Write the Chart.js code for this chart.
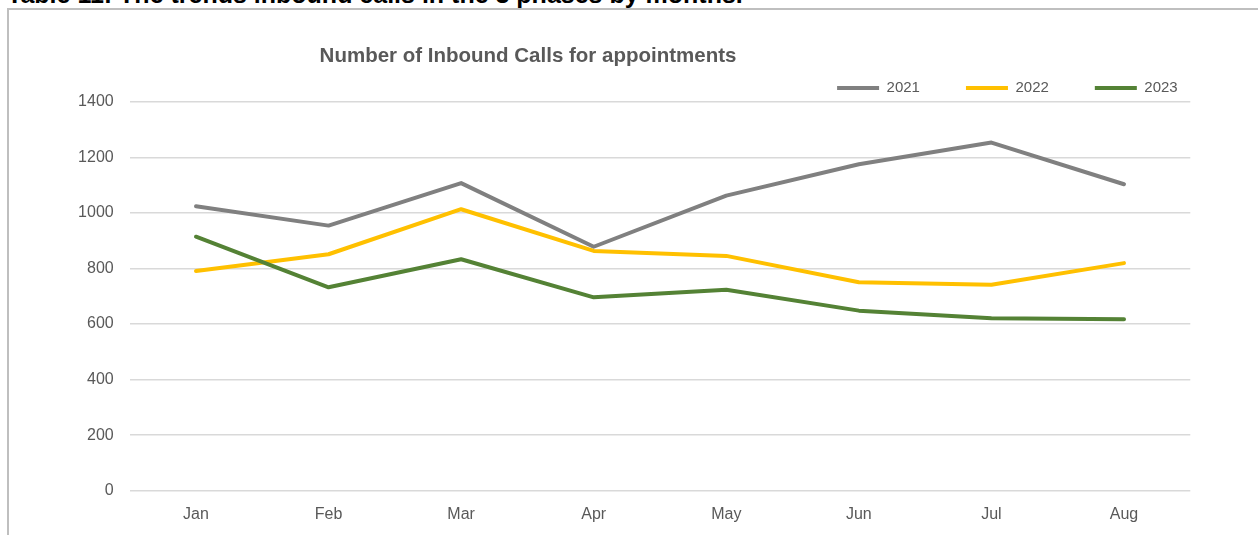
<!DOCTYPE html>
<html>
<head>
<meta charset="utf-8">
<script src="https://cdn.jsdelivr.net/npm/chart.js@4/dist/chart.umd.min.js"></script>
<style>
  html, body { margin: 0; padding: 0; background: #fff; width: 1258px; height: 535px; overflow: hidden; }
  #caption { position: absolute; left: 7px; top: -20px; font: bold 25px "Liberation Sans", Arial, sans-serif; line-height: 28px; color: #000; white-space: nowrap; }
  #frame { position: absolute; left: 7px; top: 8px; width: 1300px; height: 600px; border: 2px solid #bfbfbf; box-sizing: border-box; background: #fff; }
  #wrap { position: absolute; left: 0; top: 0; width: 1258px; height: 535px; }
</style>
</head>
<body>
<div id="caption">Table 11: The trends inbound calls in the 3 phases by months.</div>
<div id="frame"></div>
<div id="wrap"><canvas id="c" width="1258" height="535"></canvas></div>
<script>
const months = ["Jan", "Feb", "Mar", "Apr", "May", "Jun", "Jul", "Aug"];
const calls2021 = [1024, 954, 1107, 878, 1062, 1175, 1253, 1103];
const calls2022 = [791, 851, 1013, 863, 845, 750, 741, 819];
const calls2023 = [914, 732, 833, 696, 723, 648, 621, 617];
const seriesNames = ["2021", "2022", "2023"];
const seriesColors = ["#808080", "#FFC000", "#548235"];
const yTicks = [0, 200, 400, 600, 800, 1000, 1200, 1400];
const chartTitle = "Number of Inbound Calls for appointments";

const W = 1258, H = 535;
const plotLeft = 129.7, plotRight = 1190.3, plotTop = 101.7, plotBottom = 490.7;
const padRight = 34.3, padTop = 34.5;

const titlePlugin = {
  id: 'customTitle',
  afterDraw(chart) {
    const ctx = chart.ctx;
    ctx.save();
    ctx.font = 'bold 20.5px "Liberation Sans", Arial, sans-serif';
    ctx.fillStyle = '#595959';
    ctx.textAlign = 'center';
    ctx.textBaseline = 'middle';
    ctx.fillText(chartTitle, 528, 56);
    ctx.restore();
  }
};

const seriesData = [calls2021, calls2022, calls2023];
const datasets = seriesNames.map((name, i) => ({
  label: name,
  data: seriesData[i],
  borderColor: seriesColors[i],
  backgroundColor: seriesColors[i],
  borderWidth: 4,
  borderCapStyle: 'round',
  borderJoinStyle: 'round',
  pointRadius: 0,
  pointHoverRadius: 0,
  tension: 0,
  fill: false,
  order: 3 - i,
  pointStyle: 'line'
}));

new Chart(document.getElementById('c'), {
  type: 'line',
  data: { labels: months, datasets },
  plugins: [titlePlugin],
  options: {
    responsive: false,
    animation: false,
    devicePixelRatio: 1,
    layout: { padding: { top: padTop, left: 0, right: padRight, bottom: 0 } },
    plugins: {
      title: { display: false },
      tooltip: { enabled: false },
      legend: {
        display: true,
        position: 'top',
        align: 'end',
        maxHeight: plotTop - padTop,
        labels: {
          usePointStyle: true,
          pointStyleWidth: 42,
          padding: 46,
          color: '#595959',
          font: { family: '"Liberation Sans", Arial, sans-serif', size: 15 },
          sort: (a, b) => a.datasetIndex - b.datasetIndex
        }
      }
    },
    scales: {
      x: {
        type: 'category',
        offset: true,
        grid: { display: false, drawTicks: false },
        border: { display: false },
        ticks: {
          color: '#595959',
          padding: 14,
          maxRotation: 0,
          font: { family: '"Liberation Sans", Arial, sans-serif', size: 16 }
        },
        afterFit: s => { s.height = H - plotBottom; }
      },
      y: {
        min: 0,
        max: 1400,
        afterBuildTicks: s => { s.ticks = yTicks.map(v => ({ value: v })); },
        grid: { color: '#d9d9d9', lineWidth: 1.5, drawTicks: false },
        border: { display: false },
        ticks: {
          color: '#595959',
          padding: 16,
          font: { family: '"Liberation Sans", Arial, sans-serif', size: 16 },
          callback: v => String(v)
        },
        afterFit: s => { s.width = plotLeft; }
      },
      y2: {
        position: 'right',
        display: true,
        grid: { display: false, drawTicks: false },
        border: { display: false },
        ticks: { display: false },
        afterFit: s => { s.width = W - padRight - plotRight; }
      }
    }
  }
});
</script>
</body>
</html>
